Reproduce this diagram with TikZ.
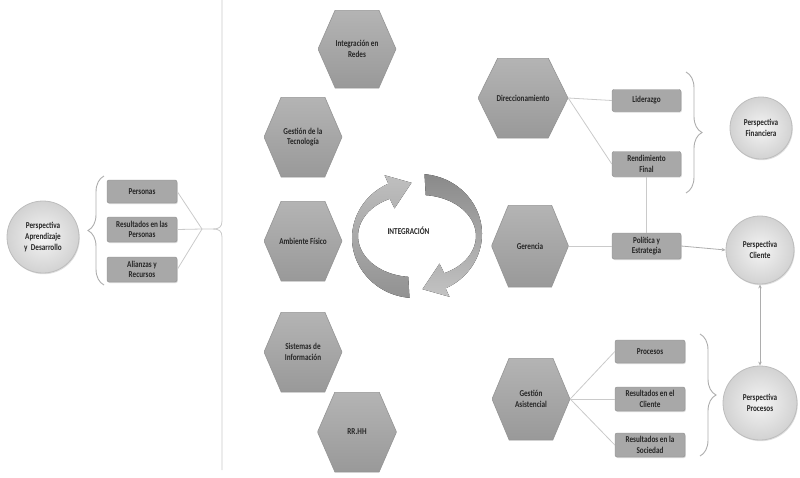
\documentclass[tikz,border=0pt]{standalone}
\usepackage{fontspec}
\setmainfont{Carlito}[FakeStretch=0.8]
\usetikzlibrary{calc,shadows,arrows.meta,decorations.pathreplacing}
\newcommand{\dgfont}{\fontsize{9}{10.6}\selectfont\bfseries}
\definecolor{txt}{HTML}{262626}
\definecolor{hexA}{HTML}{B4B4B4}
\definecolor{hexB}{HTML}{999999}
\definecolor{hexE}{HTML}{959595}
\definecolor{boxC}{HTML}{A8A8A8}
\definecolor{boxE}{HTML}{8E8E8E}
\definecolor{conC}{HTML}{CACACA}
\definecolor{brkC}{HTML}{ADADAD}
\definecolor{cirIn}{HTML}{F4F4F4}
\definecolor{cirOut}{HTML}{D2D2D2}
\definecolor{cirE}{HTML}{BDBDBD}
\tikzset{
  hexa/.style={inner sep=0pt, align=center, font=\dgfont, text=txt,
    path picture={
      \shade[top color=hexA, bottom color=hexB, draw=hexE, line width=0.6pt]
        (path picture bounding box.west)
        -- ($(path picture bounding box.north west)!0.22!(path picture bounding box.north east)$)
        -- ($(path picture bounding box.north west)!0.78!(path picture bounding box.north east)$)
        -- (path picture bounding box.east)
        -- ($(path picture bounding box.south west)!0.78!(path picture bounding box.south east)$)
        -- ($(path picture bounding box.south west)!0.22!(path picture bounding box.south east)$)
        -- cycle;}},
  box/.style={rounded corners=2pt, fill=boxC, draw=boxE, line width=0.4pt,
    minimum width=70pt, minimum height=23pt, inner sep=1pt, align=center,
    font=\dgfont, text=txt,
    drop shadow={opacity=0.3, shadow xshift=0.8pt, shadow yshift=-1pt}},
  circ/.style={circle, inner sep=0pt, align=center, font=\dgfont, text=txt,
    inner color=cirIn, outer color=cirOut, draw=cirE, line width=0.8pt,
    drop shadow={opacity=0.25, shadow xshift=0.8pt, shadow yshift=-1.2pt}},
  con/.style={draw=conC, line width=0.8pt},
  brk/.style={draw=brkC, line width=0.9pt},
  bracecurl/.style={brk, decorate, decoration={brace, amplitude=16pt}},
  arr/.style={-{Stealth[length=4pt,width=3.5pt]}, draw=brkC, line width=0.8pt},
  dbl/.style={{Stealth[length=4pt,width=3.5pt]}-{Stealth[length=4pt,width=3.5pt]}, draw=brkC, line width=0.8pt},
}
\begin{document}
\begin{tikzpicture}[x=1pt,y=-1pt]
\useasboundingbox (0,0) rectangle (800,477);

% ---------- left part ----------
\node[circ, minimum size=72pt] (apr) at (43,237) {Perspectiva\\Aprendizaje\\y\ \ Desarrollo};
\node[box] (pers) at (142,191.5) {Personas};
\node[box, minimum height=25pt] (resp) at (142,229.5) {Resultados en las\\Personas};
\node[box, minimum height=25pt] (ali) at (142,269.5) {Alianzas y\\Recursos};
\draw[bracecurl] (104,285) -- (104,176);

\coordinate (conv) at (202,229);
\draw[con] (pers.east) -- (conv);
\draw[con] (resp.east) -- (conv);
\draw[con] (ali.east) -- (conv);
\coordinate (vtop) at (222,0);
\coordinate (vbot) at (222,470);
\draw[con] (vtop) -- (222,221) .. controls (222,227) and (219,229) .. (213,229) -- (conv);
\draw[con] (vbot) -- (222,237) .. controls (222,231) and (219,229) .. (213,229);

% ---------- hexagons middle ----------
\node[hexa, minimum width=78pt, minimum height=78pt] (redes) at (357,49) {Integración en\\Redes};
\node[hexa, minimum width=78pt, minimum height=80pt] (tec) at (303,137) {Gestión de la\\Tecnología};
\node[hexa, minimum width=78pt, minimum height=80pt] (amb) at (303,241) {Ambiente Físico};
\node[hexa, minimum width=78pt, minimum height=80pt] (sis) at (303,352) {Sistemas de\\Información};
\node[hexa, minimum width=79pt, minimum height=80pt] (rrhh) at (357,432) {RR.HH};

% ---------- integration arrows ----------
\fill[top color=hexA!85, bottom color=hexB!95!black] (409.5,297.8)
  arc[start angle=95, end angle=245, x radius=63, y radius=60]
  -- (384.5,175.2) -- (411.5,182.8) -- (394.5,208.4) -- (389.8,198.8)
  arc[start angle=245, end angle=95, x radius=55, y radius=41] -- cycle;
\fill[top color=hexB!90!black, bottom color=hexA!80] (424.5,174.2)
  arc[start angle=275, end angle=425, x radius=63, y radius=60]
  -- (449.5,296.8) -- (422.5,289.2) -- (439.5,263.6) -- (444.2,273.2)
  arc[start angle=425, end angle=275, x radius=55, y radius=41] -- cycle;
\node[font=\dgfont, text=txt] (integ) at (408.5,231) {INTEGRACIÓN};

% ---------- right hexagons ----------
\node[hexa, minimum width=90pt, minimum height=80pt] (dir) at (523,98) {Direccionamiento};
\node[hexa, minimum width=77pt, minimum height=82pt] (ger) at (530,246) {Gerencia};
\node[hexa, minimum width=78pt, minimum height=82pt] (gasis) at (531,399) {Gestión\\Asistencial};

% ---------- right boxes ----------
\node[box, minimum width=69pt, minimum height=22pt] (lid) at (646.5,100.5) {Liderazgo};
\node[box, minimum width=69pt, minimum height=25pt] (rend) at (646.5,164) {Rendimiento\\Final};
\node[box, minimum width=69pt, minimum height=26pt] (pol) at (646.5,246) {Política y\\Estrategia};
\node[box, minimum height=23pt] (procbox) at (650,351.5) {Procesos};
\node[box, minimum height=24pt] (rcli) at (650,399) {Resultados en el\\Cliente};
\node[box, minimum height=24pt] (rsoc) at (650,445) {Resultados en la\\Sociedad};

% ---------- right circles ----------
\node[circ, minimum size=62pt] (fin) at (761,128) {Perspectiva\\Financiera};
\node[circ, minimum size=68pt] (cli) at (760,250) {Perspectiva\\Cliente};
\node[circ, minimum size=74pt] (proc) at (760,403) {Perspectiva\\Procesos};

% ---------- braces ----------
\draw[bracecurl] (686,72) -- (686,193);
\draw[bracecurl] (700,334) -- (700,456);

% ---------- connectors ----------
\draw[con] (dir.east) -- (lid.west);
\draw[con] (dir.east) -- (rend.west);
\draw[con] (rend.south) -- (pol.north);
\draw[con] (ger.east) -- (pol.west);
\draw[arr] (pol.east) -- (cli.west);
\draw[dbl] (cli.south) -- (proc.north);
\draw[con] (gasis.east) -- (procbox.west);
\draw[con] (gasis.east) -- (rcli.west);
\draw[con] (gasis.east) -- (rsoc.west);
\end{tikzpicture}
\end{document}
